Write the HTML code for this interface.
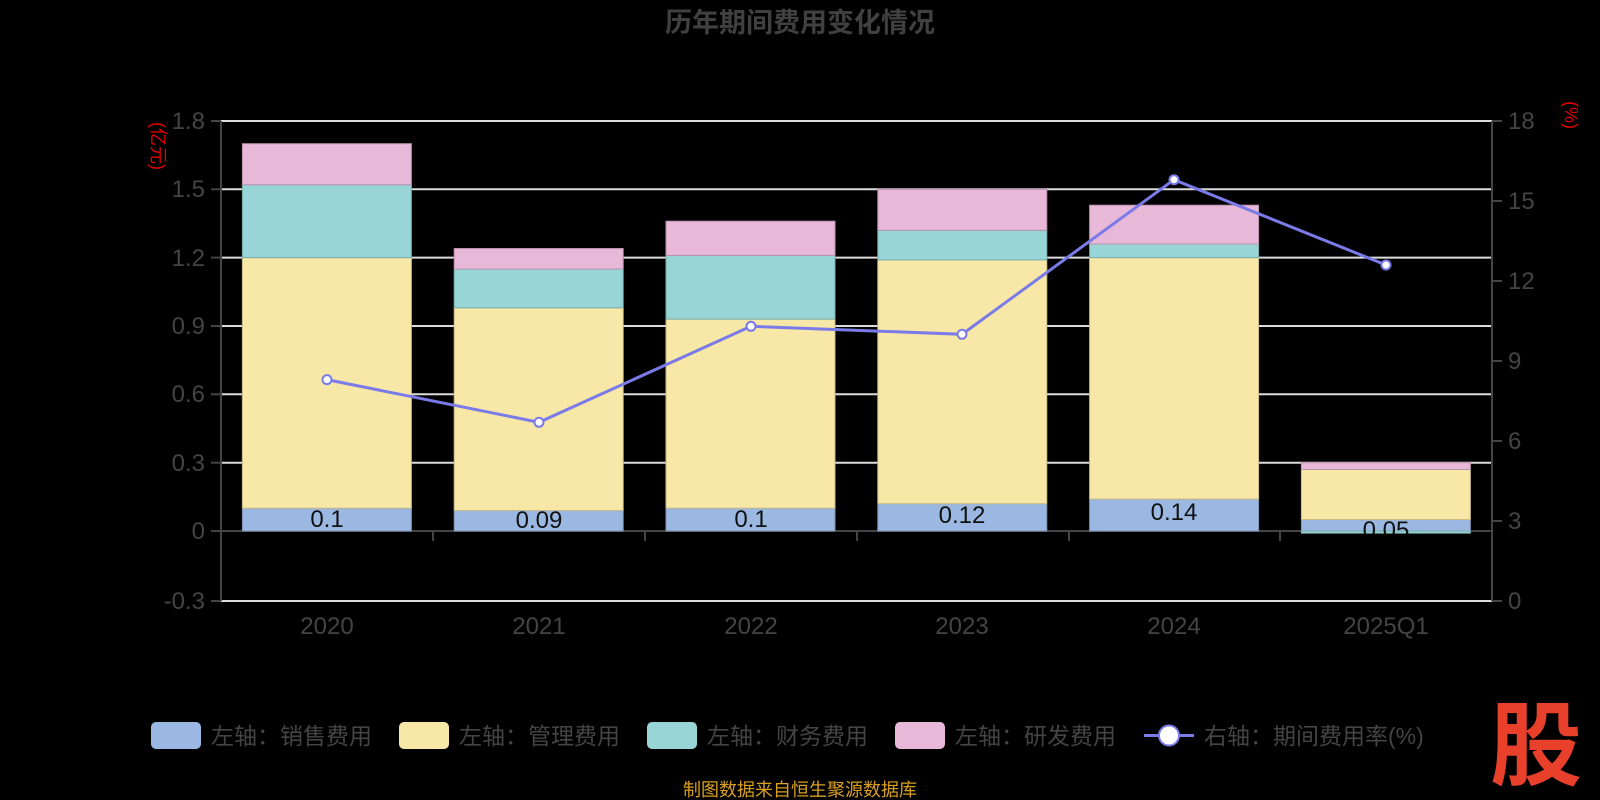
<!DOCTYPE html>
<html><head><meta charset="utf-8"><style>
html,body{margin:0;padding:0;background:#000;}
svg{display:block;font-family:"Liberation Sans","Noto Sans CJK SC",sans-serif;}
</style></head><body>
<svg width="1600" height="800" viewBox="0 0 1600 800" xmlns="http://www.w3.org/2000/svg">
<rect width="1600" height="800" fill="#000"/>
<text x="800" y="32" text-anchor="middle" font-size="27" font-weight="bold" fill="#404040">历年期间费用变化情况</text>
<g stroke="#dcdcdc" stroke-width="2">
<line x1="221" x2="1492" y1="121" y2="121"/>
<line x1="221" x2="1492" y1="189.3" y2="189.3"/>
<line x1="221" x2="1492" y1="257.6" y2="257.6"/>
<line x1="221" x2="1492" y1="326" y2="326"/>
<line x1="221" x2="1492" y1="394.3" y2="394.3"/>
<line x1="221" x2="1492" y1="462.7" y2="462.7"/>
<line x1="221" x2="1492" y1="601" y2="601"/>
</g>
<g stroke="#444" stroke-width="2">
<line x1="221" x2="221" y1="121" y2="601"/>
<line x1="1492" x2="1492" y1="121" y2="601"/>
<line x1="221" x2="1492" y1="531" y2="531"/>
<line x1="211" x2="221" y1="121" y2="121"/><line x1="211" x2="221" y1="189.3" y2="189.3"/>
<line x1="211" x2="221" y1="257.6" y2="257.6"/><line x1="211" x2="221" y1="326" y2="326"/>
<line x1="211" x2="221" y1="394.3" y2="394.3"/><line x1="211" x2="221" y1="462.7" y2="462.7"/>
<line x1="211" x2="221" y1="531" y2="531"/><line x1="211" x2="221" y1="601" y2="601"/>
<line x1="1492" x2="1502" y1="121" y2="121"/><line x1="1492" x2="1502" y1="201" y2="201"/>
<line x1="1492" x2="1502" y1="281" y2="281"/><line x1="1492" x2="1502" y1="361" y2="361"/>
<line x1="1492" x2="1502" y1="441" y2="441"/><line x1="1492" x2="1502" y1="521" y2="521"/>
<line x1="1492" x2="1502" y1="601" y2="601"/>
<line x1="433" x2="433" y1="531" y2="541"/><line x1="645" x2="645" y1="531" y2="541"/>
<line x1="857" x2="857" y1="531" y2="541"/><line x1="1069" x2="1069" y1="531" y2="541"/>
<line x1="1280" x2="1280" y1="531" y2="541"/>
</g>
<g font-size="24" fill="#444" text-anchor="end">
<text x="205" y="129">1.8</text><text x="205" y="197">1.5</text><text x="205" y="266">1.2</text>
<text x="205" y="334">0.9</text><text x="205" y="402">0.6</text><text x="205" y="471">0.3</text>
<text x="205" y="539">0</text><text x="205" y="609">-0.3</text>
</g>
<g font-size="24" fill="#444">
<text x="1508" y="129">18</text><text x="1508" y="209">15</text><text x="1508" y="289">12</text>
<text x="1508" y="369">9</text><text x="1508" y="449">6</text><text x="1508" y="529">3</text>
<text x="1508" y="609">0</text>
</g>
<g font-size="24" fill="#444" text-anchor="middle">
<text x="327" y="634">2020</text><text x="539" y="634">2021</text><text x="751" y="634">2022</text>
<text x="962" y="634">2023</text><text x="1174" y="634">2024</text><text x="1386" y="634">2025Q1</text>
</g>
<text transform="translate(152,146) rotate(90)" text-anchor="middle" font-size="18" fill="#e00000">(亿元)</text>
<text transform="translate(1565,115) rotate(90)" text-anchor="middle" font-size="18" fill="#e00000">(%)</text>
<g stroke-width="1">
<rect x="242.4" y="508.2" width="169" height="22.8" fill="#9bb8e3" stroke="#7d93b5"/>
<rect x="242.4" y="257.6" width="169" height="250.6" fill="#f8e8a8" stroke="#c7b987"/>
<rect x="242.4" y="184.7" width="169" height="72.9" fill="#98d5d6" stroke="#7aabab"/>
<rect x="242.4" y="143.7" width="169" height="41" fill="#e8b8d8" stroke="#ba93ad"/>
<rect x="454.2" y="510.5" width="169" height="20.5" fill="#9bb8e3" stroke="#7d93b5"/>
<rect x="454.2" y="307.8" width="169" height="202.7" fill="#f8e8a8" stroke="#c7b987"/>
<rect x="454.2" y="269" width="169" height="38.8" fill="#98d5d6" stroke="#7aabab"/>
<rect x="454.2" y="248.5" width="169" height="20.5" fill="#e8b8d8" stroke="#ba93ad"/>
<rect x="666" y="508.2" width="169" height="22.8" fill="#9bb8e3" stroke="#7d93b5"/>
<rect x="666" y="319.1" width="169" height="189.1" fill="#f8e8a8" stroke="#c7b987"/>
<rect x="666" y="255.4" width="169" height="63.7" fill="#98d5d6" stroke="#7aabab"/>
<rect x="666" y="221.2" width="169" height="34.2" fill="#e8b8d8" stroke="#ba93ad"/>
<rect x="877.8" y="503.7" width="169" height="27.3" fill="#9bb8e3" stroke="#7d93b5"/>
<rect x="877.8" y="259.9" width="169" height="243.8" fill="#f8e8a8" stroke="#c7b987"/>
<rect x="877.8" y="230.3" width="169" height="29.6" fill="#98d5d6" stroke="#7aabab"/>
<rect x="877.8" y="189.3" width="169" height="41" fill="#e8b8d8" stroke="#ba93ad"/>
<rect x="1089.6" y="499.1" width="169" height="31.9" fill="#9bb8e3" stroke="#7d93b5"/>
<rect x="1089.6" y="257.6" width="169" height="241.5" fill="#f8e8a8" stroke="#c7b987"/>
<rect x="1089.6" y="244" width="169" height="13.6" fill="#98d5d6" stroke="#7aabab"/>
<rect x="1089.6" y="205.2" width="169" height="38.8" fill="#e8b8d8" stroke="#ba93ad"/>
<rect x="1301.4" y="519.6" width="169" height="11.4" fill="#9bb8e3" stroke="#7d93b5"/>
<rect x="1301.4" y="531" width="169" height="2.3" fill="#98d5d6" stroke="#7aabab"/>
</g>
<g font-size="24" fill="#111" text-anchor="middle">
<text x="327" y="527">0.1</text><text x="539" y="528">0.09</text><text x="751" y="527">0.1</text>
<text x="962" y="523">0.12</text><text x="1174" y="520">0.14</text><text x="1386" y="538">0.05</text>
</g>
<rect x="1301.4" y="469.5" width="169" height="50.1" fill="#f8e8a8" stroke="#c7b987" stroke-width="1"/>
<rect x="1301.4" y="462.7" width="169" height="6.8" fill="#e8b8d8" stroke="#ba93ad" stroke-width="1"/>
<rect x="1301.4" y="533.8" width="170" height="20" fill="#000"/>
<polyline points="327,379.6 539,422.3 751,326.3 962,334.3 1174,179.7 1386,265" fill="none" stroke="#7a7ae8" stroke-width="3"/>
<g fill="#fff" stroke="#7a7ae8" stroke-width="2">
<circle cx="327" cy="379.6" r="4.5"/><circle cx="539" cy="422.3" r="4.5"/><circle cx="751" cy="326.3" r="4.5"/>
<circle cx="962" cy="334.3" r="4.5"/><circle cx="1174" cy="179.7" r="4.5"/><circle cx="1386" cy="265" r="4.5"/>
</g>
<g font-size="23" fill="#444">
<rect x="151" y="722" width="50" height="27" rx="5" fill="#9bb8e3"/><text x="211" y="744">左轴：销售费用</text>
<rect x="399" y="722" width="50" height="27" rx="5" fill="#f8e8a8"/><text x="459" y="744">左轴：管理费用</text>
<rect x="647" y="722" width="50" height="27" rx="5" fill="#98d5d6"/><text x="707" y="744">左轴：财务费用</text>
<rect x="895" y="722" width="50" height="27" rx="5" fill="#e8b8d8"/><text x="955" y="744">左轴：研发费用</text>
<line x1="1144" x2="1194" y1="735.5" y2="735.5" stroke="#7a7ae8" stroke-width="3"/>
<circle cx="1169" cy="735.5" r="10" fill="#fff" stroke="#7a7ae8" stroke-width="2"/>
<text x="1204" y="744">右轴：期间费用率(%)</text>
</g>
<text x="800" y="796" text-anchor="middle" font-size="18" fill="#d9a020">制图数据来自恒生聚源数据库</text>
<text x="1536" y="778" text-anchor="middle" font-size="92" font-weight="bold" fill="#e8402a">股</text>
</svg>
</body></html>
